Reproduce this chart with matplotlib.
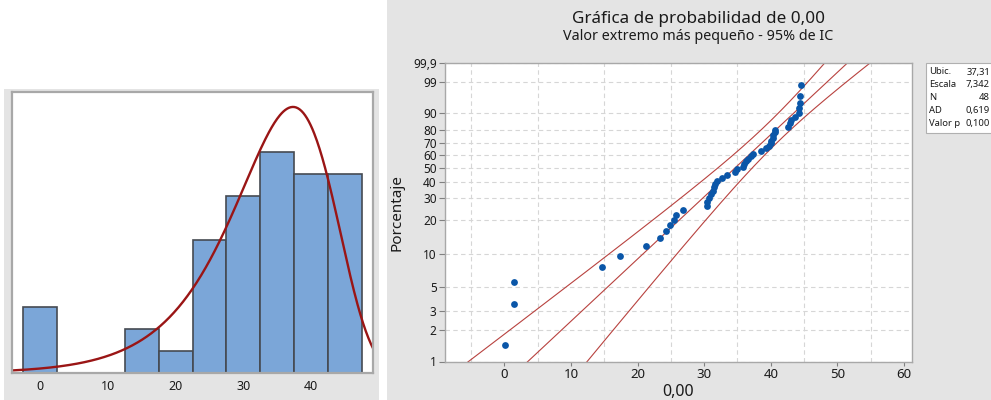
import numpy as np
import matplotlib
matplotlib.use('Agg')
import matplotlib.pyplot as plt
from matplotlib.patches import Rectangle

plt.rcParams['font.family'] = ['Noto Sans', 'DejaVu Sans']

# sorted sample values (N = 48)
datos = [0.1, 1.4, 1.5, 14.6, 17.4, 21.3, 23.3, 24.3, 24.8, 25.4, 25.7, 26.8,
         30.4, 30.4, 30.8, 31.1, 31.4, 31.5, 31.6, 32.0,
         32.7, 33.4, 34.6, 34.9, 35.9, 36.0, 36.3, 36.6, 37.0, 37.3,
         38.5, 39.3, 39.8, 40.0, 40.1, 40.3, 40.4, 40.6, 40.7,
         42.6, 42.9, 43.1, 43.6, 44.2, 44.3, 44.4, 44.4, 44.5]

# fitted smallest extreme value parameters (from the stats box)
ubic = 37.31
escala = 7.342
stats_labels = ['Ubic.', 'Escala', 'N', 'AD', 'Valor p']
stats_values = ['37,31', '7,342', '48', '0,619', '0,100']

bin_edges = np.arange(-2.5, 50, 5)
hist_ticks = [0, 10, 20, 30, 40]

pct_ticks = [1, 2, 3, 5, 10, 20, 30, 40, 50, 60, 70, 80, 90, 99, 99.9]
pct_labels = ['1', '2', '3', '5', '10', '20', '30', '40', '50', '60', '70', '80', '90', '99', '99,9']
x_ticks = [0, 10, 20, 30, 40, 50, 60]

W, H = 991, 400
GRAY = '#e4e4e4'
TXT = '#1a1a1a'


def fx(px):
    return px / W


def fy(py):
    return 1 - py / H


def sev_w(p):
    # smallest extreme value probability scale
    return np.log(-np.log(1 - p))


fig = plt.figure(figsize=(W / 100, H / 100), dpi=100)
fig.patch.set_facecolor('white')

# panel backgrounds
fig.patches.append(Rectangle((fx(4), 0), fx(379) - fx(4), fy(89), transform=fig.transFigure,
                             facecolor=GRAY, edgecolor='none', zorder=-10))
fig.patches.append(Rectangle((fx(387), 0), 1 - fx(387), 1, transform=fig.transFigure,
                             facecolor=GRAY, edgecolor='none', zorder=-10))

# ---------------- histogram with fitted curve ----------------
ax1 = fig.add_axes([fx(12), fy(373), fx(373) - fx(12), fy(92) - fy(373)])
ax1.hist(datos, bins=bin_edges, color='#7ba6d8', edgecolor='#454a52', linewidth=1.2)
n = len(datos)
xc = np.linspace(-4.1, 49.1, 400)
z = (xc - ubic) / escala
ax1.plot(xc, n * 5 * np.exp(z - np.exp(z)) / escala, color='#9a1515', linewidth=1.7)
ax1.set_xlim(-4.1, 49.1)
ax1.set_ylim(0, 12.7)
ax1.set_yticks([])
ax1.set_xticks(hist_ticks)
ax1.tick_params(axis='x', length=0, pad=5, labelsize=9, labelcolor=TXT)
for s in ax1.spines.values():
    s.set_color('#a8a8a8')
    s.set_linewidth(1.6)

# ---------------- probability plot ----------------
ax2 = fig.add_axes([fx(445), fy(361.5), fx(912) - fx(445), fy(63) - fy(361.5)])
ax2.set_facecolor('white')
p_rank = (np.arange(1, n + 1) - 0.3) / (n + 0.4)
wg = np.linspace(sev_w(0.0005), sev_w(0.99999), 300)
x_fit = ubic + escala * wg
se = np.sqrt(escala ** 2 / n * (1.1087 + 0.6079 * wg ** 2 - 2 * 0.2570 * wg)) * 1.06
for xs in (x_fit - 1.96 * se, x_fit, x_fit + 1.96 * se):
    ax2.plot(xs, wg, color='#b8423f', linewidth=0.8, zorder=2)
ax2.scatter(sorted(datos), sev_w(p_rank), s=24, color='#0a56a8', zorder=3, linewidths=0)

ax2.set_xlim(-8.9, 61.2)
ax2.set_ylim(sev_w(0.01), sev_w(0.999))
ax2.set_yticks([sev_w(p / 100) for p in pct_ticks])
ax2.set_yticklabels(pct_labels)
ax2.set_xticks(x_ticks)
ax2.set_xticks(np.arange(-5, 61, 5), minor=True)
ax2.tick_params(axis='y', length=4, width=0.8, color='#808080', pad=2, labelsize=8.5, labelcolor=TXT)
ax2.tick_params(axis='x', which='major', length=3, width=0.8, color='#808080', pad=2,
                labelsize=9.5, labelcolor=TXT)
ax2.tick_params(axis='x', which='minor', length=0)
ax2.grid(True, which='minor', axis='x', color='#d6d6d6', linestyle=(0, (4, 3)), linewidth=0.8)
ax2.grid(True, which='major', axis='y', color='#d6d6d6', linestyle=(0, (4, 3)), linewidth=0.8)
ax2.set_axisbelow(True)
for s in ax2.spines.values():
    s.set_color('#a8a8a8')
    s.set_linewidth(1.0)

ax2.set_ylabel('Porcentaje', fontsize=11, color=TXT, labelpad=6)
ax2.set_xlabel('0,00', fontsize=11.5, color=TXT, labelpad=2)

fig.text(fx(698), fy(19), 'Gráfica de probabilidad de 0,00', ha='center', va='center',
         fontsize=12.3, color=TXT)
fig.text(fx(698), fy(36), 'Valor extremo más pequeño - 95% de IC', ha='center', va='center',
         fontsize=10.3, color=TXT)

# stats box (runs past the right edge, as in the reference)
fig.patches.append(Rectangle((fx(926), fy(133)), fx(1070) - fx(926), fy(63) - fy(133),
                             transform=fig.transFigure, facecolor='white',
                             edgecolor='#b0b0b0', linewidth=0.8))
for i, (lab, val) in enumerate(zip(stats_labels, stats_values)):
    yy = fy(72 + i * 12.8)
    fig.text(fx(929), yy, lab, ha='left', va='center', fontsize=6.8, color=TXT)
    fig.text(fx(990), yy, val, ha='right', va='center', fontsize=6.8, color=TXT)

fig.savefig('out.png', dpi=100)
